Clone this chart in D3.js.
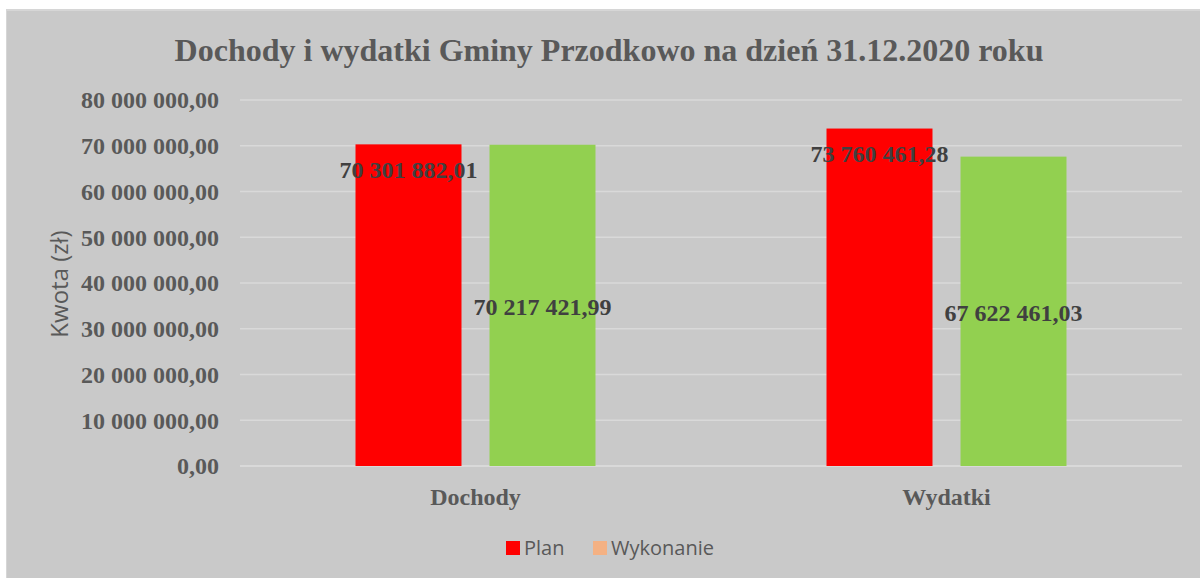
<!DOCTYPE html>
<html><head><meta charset="utf-8">
<script src="https://cdn.jsdelivr.net/npm/d3@7"></script>
<style>body{margin:0;background:#fff}svg{display:block}</style>
</head><body>
<svg id="c" width="1200" height="578"></svg>
<script>
const categories = ["Dochody", "Wydatki"];
const seriesNames = ["Plan", "Wykonanie"];
const planValues = [70301882.01, 73760461.28];
const wykonanieValues = [70217421.99, 67622461.03];
const tickValues = [0, 10000000, 20000000, 30000000, 40000000, 50000000, 60000000, 70000000, 80000000];
const title = "Dochody i wydatki Gminy Przodkowo na dzień 31.12.2020 roku";
const yTitle = "Kwota (zł)";

(function(){
const svg = d3.select("#c");
svg.append("rect").attr("x",6).attr("y",9).attr("width",1194).attr("height",569).attr("fill","#d6d6d6");
svg.append("rect").attr("x",7).attr("y",11).attr("width",1193).attr("height",567).attr("fill","#c9c9c9");

const pL = 240, pR = 1182, pT = 100, pB = 466;
const x = d3.scaleBand().domain(categories).range([pL, pR]);
const y = d3.scaleLinear().domain([0, 80000000]).range([pB, pT]);
const fmt = v => {
  const parts = v.toFixed(2).split(".");
  return parts[0].replace(/\B(?=(\d{3})+(?!\d))/g, " ") + "," + parts[1];
};

// gridlines
svg.append("g").selectAll("line").data(tickValues).join("line")
  .attr("x1", pL).attr("x2", pR)
  .attr("y1", d => y(d)).attr("y2", d => y(d))
  .attr("stroke", "#d9d9d9").attr("stroke-width", d => d===0?2:1.5);

// y axis labels
const yAxis = d3.axisLeft(y).tickValues(tickValues).tickFormat(fmt).tickSize(0).tickPadding(0);
const ya = svg.append("g").attr("transform", `translate(219,0)`).call(yAxis);
ya.select(".domain").remove();
ya.selectAll("text").attr("font-family","'Liberation Serif', serif").attr("font-weight","bold")
  .attr("font-size","24px").attr("fill","#595959").attr("dy","0.33em");

// x axis labels
const xAxis = d3.axisBottom(x).tickSize(0).tickPadding(0);
const xa = svg.append("g").attr("transform", `translate(0,${pB})`).call(xAxis);
xa.select(".domain").remove();
xa.selectAll("text").attr("font-family","'Liberation Serif', serif").attr("font-weight","bold")
  .attr("font-size","24px").attr("fill","#595959").attr("dy","0").attr("y",39);

const inner = d3.scaleBand().domain(seriesNames).range([0, x.bandwidth()]).paddingInner(0.209).paddingOuter(0.862);
const colors = {Plan:"#ff0000", Wykonanie:"#92d050"};
const data = categories.map((c,i) => ({cat:c, vals:[{s:"Plan", v:planValues[i]},{s:"Wykonanie", v:wykonanieValues[i]}]}));

const g = svg.append("g");
data.forEach(d => {
  d.vals.forEach(p => {
    const bx = x(d.cat) + inner(p.s);
    g.append("rect").attr("x", bx).attr("width", inner.bandwidth())
      .attr("y", y(p.v)).attr("height", pB - y(p.v)).attr("fill", colors[p.s]);
  });
});
data.forEach(d => {
  d.vals.forEach(p => {
    const cx = x(d.cat) + inner(p.s) + inner.bandwidth()/2;
    const cy = p.s === "Plan" ? y(p.v) + 25 : (y(p.v) + pB)/2 + 1;
    svg.append("text").attr("x", cx).attr("y", cy).attr("dy","0.35em")
      .attr("text-anchor","middle").attr("font-family","'Liberation Serif', serif")
      .attr("font-weight","bold").attr("font-size","24px").attr("fill","#404040")
      .text(fmt(p.v));
  });
});

// title
svg.append("text").attr("x", 609).attr("y", 50).attr("dy","0.35em").attr("text-anchor","middle")
  .attr("font-family","'Liberation Serif', serif").attr("font-weight","bold")
  .attr("font-size","32px").attr("fill","#595959").text(title);

// y title
svg.append("text").attr("transform","translate(60,284) rotate(-90)").attr("dy","0.35em")
  .attr("text-anchor","middle").attr("font-family","'Open Sans', sans-serif")
  .attr("font-size","24px").attr("fill","#595959").text(yTitle);

// legend
const legendColors = ["#ff0000", "#f4b183"];
const lg = svg.append("g");
const lx = [506, 593];
seriesNames.forEach((s,i) => {
  lg.append("rect").attr("x", lx[i]).attr("y", 541).attr("width", 14).attr("height", 14).attr("fill", legendColors[i]);
  lg.append("text").attr("x", lx[i]+18).attr("y", 548).attr("dy","0.35em")
    .attr("font-family","'Open Sans', sans-serif").attr("font-size","20px").attr("fill","#595959").text(s);
});
})();
</script>
</body></html>
